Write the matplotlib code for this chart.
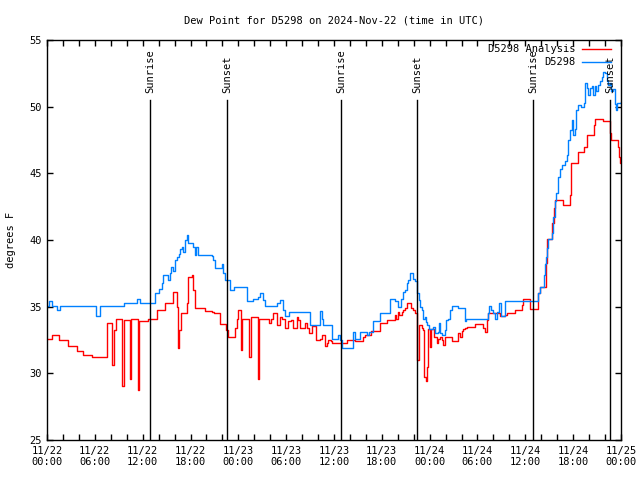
"""
Dew point plot for D5298, gnuplot-like look
"""

import numpy as np
import matplotlib
matplotlib.use('Agg')
import matplotlib.pyplot as plt
from matplotlib.ticker import FixedLocator, MultipleLocator

plt.rcParams['font.family'] = ['DejaVu Sans Mono']

# hours since 2024-11-22 00:00 UTC, dew point in F (step data)
obs_t = [0.0, 0.3, 0.6, 1.2, 1.6, 6.2, 6.6, 9.6, 11.3, 11.7, 13.6, 14.1, 14.4, 14.6,
         15.2, 15.4, 15.6, 15.85, 16.06, 16.27, 16.5, 16.7, 16.9, 17.1, 17.3, 17.5,
         17.7, 18.35, 18.56, 18.75, 18.98, 20.65, 20.86, 21.07, 21.9, 22.1, 22.3,
         22.95, 23.4, 25.05, 25.9, 26.5, 26.7, 27.1, 27.35, 28.4, 28.8, 29.2, 29.65,
         29.85, 30.3, 32.6, 33.0, 34.0, 34.25, 34.45, 34.65, 35.7, 36.5, 36.75, 36.97,
         38.4, 38.6, 39.2, 40.1, 40.4, 40.9, 41.8, 43.0, 43.7, 44.07, 44.4, 44.6, 44.9,
         45.1, 45.3, 45.5, 45.9, 46.2, 46.35, 46.45, 46.6, 46.8, 47.0, 47.2, 47.4,
         47.55, 47.7, 47.96, 48.4, 48.7, 49.05, 49.2, 49.35, 49.6, 49.9, 50.1, 50.3,
         50.55, 50.76, 51.5, 52.0, 52.4, 52.6, 53.7, 55.36, 55.5, 55.65, 55.9, 56.2,
         56.5, 56.7, 56.9, 57.0, 57.45, 61.6, 61.8, 62.4, 62.5, 62.6, 62.75, 62.9,
         63.4, 63.5, 63.7, 63.9, 64.1, 64.3, 64.55, 65.0, 65.2, 65.3, 65.4, 65.6,
         65.8, 66.0, 66.2, 66.4, 66.65, 67.0, 67.3, 67.5, 67.7, 67.9, 68.1, 68.3,
         68.5, 68.7, 68.9, 69.1, 69.4, 69.6, 69.8, 70.0, 70.2, 70.4, 70.6, 70.8,
         71.0, 71.2, 71.4, 71.5, 72.0]
obs_v = [35.05, 35.4, 35.05, 34.75, 35.05, 34.3, 35.05, 35.25, 35.55, 35.3, 36.05, 36.3, 36.75, 37.4,
         37.0, 37.55, 38.0, 37.7, 38.5, 38.75, 38.95, 39.3, 39.45, 39.1, 40.0, 40.4,
         39.75, 39.5, 38.9, 39.5, 38.85, 38.8, 38.5, 37.9, 38.2, 37.5, 37.0,
         36.25, 36.45, 35.45, 35.6, 35.75, 36.0, 35.5, 35.05, 35.05, 35.3, 35.5, 34.75,
         34.3, 34.6, 34.6, 33.6, 33.6, 34.65, 34.1, 33.6, 32.6, 32.85, 32.5, 31.9,
         33.1, 32.6, 33.1, 32.9, 33.1, 33.9, 34.5, 35.55, 35.4, 35.0, 35.6, 36.1, 36.25,
         36.75, 37.0, 37.5, 37.1, 36.9, 36.25, 36.0, 35.5, 35.0, 34.75, 34.1, 34.2,
         33.85, 33.6, 33.35, 33.5, 33.0, 33.1, 33.8, 33.0, 32.9, 33.25, 34.0, 34.1,
         34.75, 35.05, 34.9, 34.9, 33.9, 34.1, 34.1, 34.5, 35.05, 34.75, 34.5, 34.1,
         34.6, 35.3, 34.75, 34.3, 35.45, 36.0, 36.45, 37.4, 38.2, 38.75, 39.4, 40.05,
         40.5, 41.7, 42.9, 43.5, 44.75, 45.3, 45.6, 45.9, 46.4, 46.9, 47.5, 48.25,
         49.0, 47.85, 48.35, 49.75, 50.1, 50.0, 50.25, 51.8, 51.4, 50.9, 51.4, 51.55,
         50.9, 51.55, 51.2, 51.65, 51.9, 52.25, 52.6, 52.5, 51.9, 51.6, 51.75, 51.2,
         51.3, 50.2, 49.75, 50.25, 50.35]

ana_t = [0.0, 0.59, 1.5, 2.68, 3.72, 4.56, 5.6, 7.55, 8.2, 8.45, 8.66, 9.45, 9.6,
         10.41, 10.55, 11.46, 11.6, 12.71, 13.76, 14.8, 15.76, 16.27, 16.4, 16.55,
         16.77, 17.52, 17.72, 18.15, 18.35, 18.56, 19.8, 20.65, 21.0, 21.7, 22.5,
         22.75, 23.6, 23.8, 24.0, 24.3, 24.5, 25.4, 25.55, 26.45, 26.6, 27.9, 28.1,
         28.4, 28.6, 28.8, 29.2, 29.5, 29.85, 30.27, 30.6, 30.9, 31.3, 31.5, 31.7,
         32.36, 32.6, 32.9, 33.2, 33.8, 34.2, 34.55, 34.85, 35.1, 35.3, 35.6, 35.8,
         37.6, 38.6, 39.7, 39.9, 40.7, 41.8, 42.6, 43.65, 43.8, 44.07, 44.2, 44.5,
         44.7, 44.9, 45.2, 45.6, 45.9, 46.2, 46.35, 46.4, 46.45, 46.6, 47.0, 47.2,
         47.3, 47.5, 47.65, 47.75, 48.0, 48.2, 48.5, 48.9, 49.1, 49.3, 49.5, 49.7,
         49.9, 50.76, 51.6, 51.8, 52.0, 52.2, 52.4, 52.65, 53.7, 54.7, 54.9, 55.15,
         55.36, 56.8, 57.5, 57.7, 58.7, 59.55, 59.76, 60.6, 61.6, 61.9, 62.6, 62.76,
         63.4, 63.6, 63.76, 64.76, 65.6, 65.73, 66.65, 67.3, 67.78, 68.6, 68.8, 69.7,
         70.6, 70.75, 71.6, 71.75, 71.9, 72.0]
ana_v = [32.55, 32.85, 32.5, 32.05, 31.7, 31.4, 31.25, 33.75, 30.6, 33.25, 34.1, 29.05, 34.0,
         29.6, 34.1, 28.75, 33.95, 34.1, 34.75, 35.3, 36.1, 35.0, 31.9, 33.25,
         34.5, 35.25, 37.25, 37.4, 36.25, 34.9, 34.7, 34.6, 34.5, 33.7, 33.25,
         32.7, 33.4, 34.1, 34.75, 31.75, 34.1, 31.25, 34.2, 29.6, 34.05, 33.8, 34.05,
         34.55, 34.5, 33.6, 34.2, 34.05, 33.4, 33.9, 34.0, 33.4, 34.2, 34.0, 33.4,
         33.75, 33.4, 33.0, 33.55, 32.5, 32.6, 32.9, 32.05, 32.3, 32.5, 32.4, 32.3,
         32.5, 32.4, 32.75, 32.9, 33.2, 33.75, 34.0, 34.4, 34.05, 34.6, 34.35, 34.6,
         34.75, 34.9, 35.25, 34.9, 34.75, 34.5, 33.5, 32.0, 31.0, 33.6, 33.4, 33.25,
         29.75, 29.4, 30.5, 33.3, 32.0, 33.3, 32.75, 32.25, 32.6, 32.75, 32.5, 32.1,
         32.75, 32.4, 33.0, 32.75, 33.15, 33.35, 33.4, 33.5, 33.7, 33.4, 33.1, 34.0,
         34.5, 34.3, 34.4, 34.5, 34.75, 35.1, 35.55, 34.8, 36.0, 36.45, 38.25, 40.1,
         41.25, 42.4, 43.0, 42.6, 43.4, 45.75, 46.6, 47.0, 47.9, 48.6, 49.1, 48.9,
         48.0, 47.5, 47.0, 46.2, 45.75, 45.75]

sunrise_t = [12.9, 36.9, 60.95]
sunset_t = [22.55, 46.45, 70.6]

tick_hours = list(range(0, 73, 6))
tick_labels = ['11/22\n00:00', '11/22\n06:00', '11/22\n12:00', '11/22\n18:00',
               '11/23\n00:00', '11/23\n06:00', '11/23\n12:00', '11/23\n18:00',
               '11/24\n00:00', '11/24\n06:00', '11/24\n12:00', '11/24\n18:00',
               '11/25\n00:00']

fig = plt.figure(figsize=(6.4, 4.8), dpi=100)
ax = fig.add_axes([47 / 640, 40 / 480, 574 / 640, 400 / 480])

ax.plot(ana_t, ana_v, color='#ff0000', lw=1.0, drawstyle='steps-post', label='D5298 Analysis')
ax.plot(obs_t, obs_v, color='#0080ff', lw=1.0, drawstyle='steps-post', label='D5298')

# sunrise / sunset markers
for t in sunrise_t:
    ax.plot([t, t], [25, 50.5], color='black', lw=1.0)
    ax.text(t, 51.0, 'Sunrise', rotation=90, ha='center', va='bottom', fontsize=7.5)
for t in sunset_t:
    ax.plot([t, t], [25, 50.5], color='black', lw=1.0)
    ax.text(t, 51.0, 'Sunset', rotation=90, ha='center', va='bottom', fontsize=7.5)

ax.set_xlim(0, 72)
ax.set_ylim(25, 55)
ax.xaxis.set_major_locator(FixedLocator(tick_hours))
ax.set_xticklabels(tick_labels)
ax.xaxis.set_minor_locator(MultipleLocator(2))
ax.yaxis.set_major_locator(MultipleLocator(5))
ax.tick_params(which='both', direction='in', top=True, right=True, labelsize=7.5, width=1)
ax.tick_params(which='major', length=4, pad=4)
ax.tick_params(which='minor', length=4)
for s in ax.spines.values():
    s.set_linewidth(1)

ax.set_ylabel('degrees F', fontsize=7.5, labelpad=9)
ax.set_title('Dew Point for D5298 on 2024-Nov-22 (time in UTC)', fontsize=7.5, pad=12)

ax.legend(loc='upper right', bbox_to_anchor=(1 - 5 / 574, 1 + 1 / 400),
          frameon=False, markerfirst=False, fontsize=7.5,
          handlelength=2.75, handletextpad=0.6, labelspacing=0.3,
          borderaxespad=0.3, borderpad=0.2)

fig.savefig('out.png', dpi=100, facecolor='white')
